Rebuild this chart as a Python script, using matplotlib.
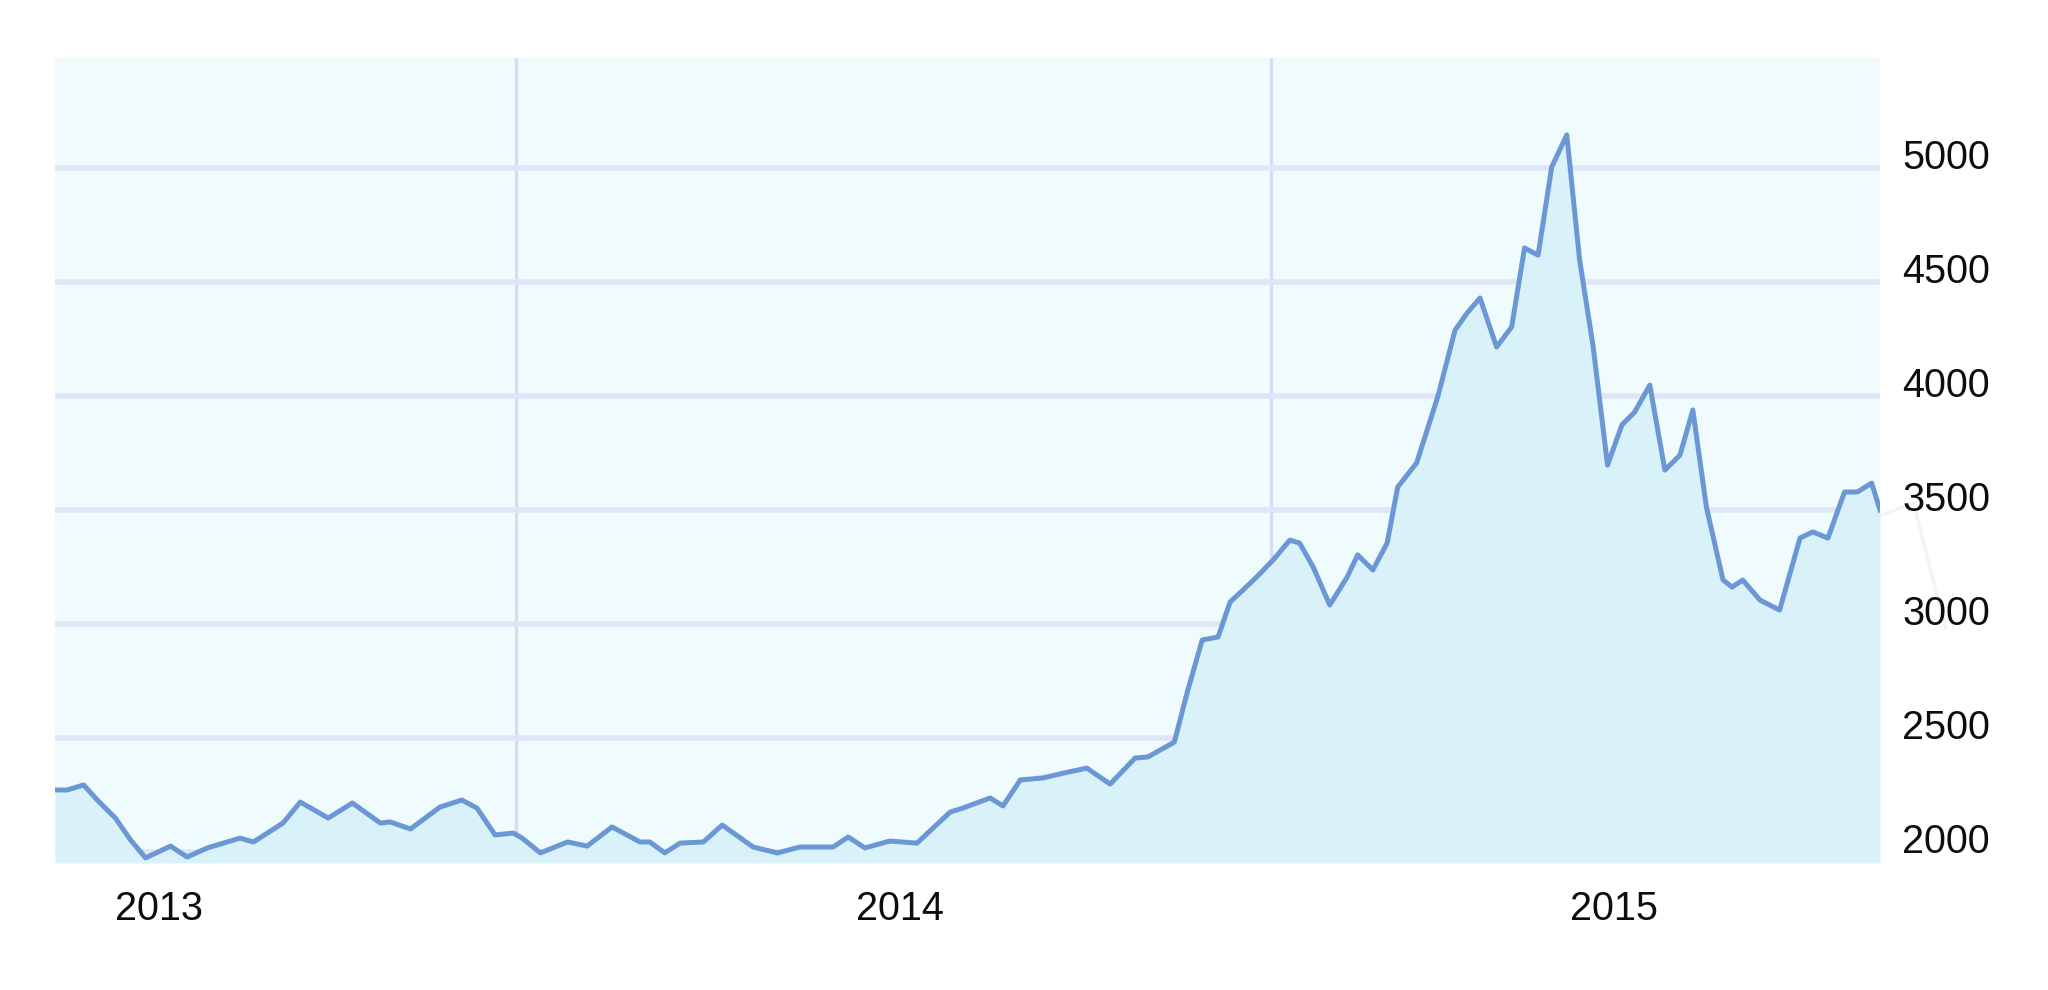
import matplotlib
matplotlib.use("Agg")
import matplotlib.pyplot as plt
from matplotlib.transforms import ScaledTranslation

# time (fractional years) and index values
years = [2013.389, 2013.405, 2013.427, 2013.445, 2013.469, 2013.489, 2013.509, 2013.542,
         2013.564, 2013.591, 2013.612, 2013.634, 2013.652, 2013.691, 2013.714, 2013.751,
         2013.783, 2013.820, 2013.833, 2013.860, 2013.899, 2013.928, 2013.948, 2013.972,
         2013.996, 2014.008, 2014.032, 2014.068, 2014.094, 2014.127, 2014.164, 2014.177,
         2014.197, 2014.217, 2014.248, 2014.273, 2014.314, 2014.346, 2014.376, 2014.420,
         2014.440, 2014.462, 2014.495, 2014.531, 2014.575, 2014.592, 2014.628, 2014.645,
         2014.668, 2014.698, 2014.725, 2014.756, 2014.787, 2014.820, 2014.837, 2014.872,
         2014.890, 2014.909, 2014.930, 2014.946, 2014.963, 2014.981, 2015.003, 2015.025,
         2015.038, 2015.056, 2015.078, 2015.101, 2015.115, 2015.135, 2015.154, 2015.168,
         2015.193, 2015.221, 2015.244, 2015.260, 2015.277, 2015.299, 2015.319, 2015.336,
         2015.354, 2015.372, 2015.392, 2015.409, 2015.427, 2015.446, 2015.465, 2015.482,
         2015.502, 2015.522, 2015.542, 2015.559, 2015.577, 2015.599, 2015.611, 2015.625,
         2015.648, 2015.674, 2015.701, 2015.718, 2015.738, 2015.760, 2015.777, 2015.796,
         2015.807]
values = [2272, 2272, 2294, 2228, 2149, 2053, 1974, 2026,
          1978, 2018, 2039, 2061, 2044, 2127, 2219, 2149,
          2215, 2127, 2132, 2101, 2197, 2228, 2193, 2075,
          2083, 2061, 1996, 2044, 2026, 2110, 2044, 2044,
          1996, 2039, 2044, 2118, 2022, 1996, 2022, 2022,
          2066, 2018, 2048, 2039, 2175, 2193, 2237, 2202,
          2316, 2325, 2346, 2368, 2298, 2412, 2417, 2482,
          2711, 2930, 2943, 3097, 3149, 3206, 3281, 3368,
          3355, 3250, 3083, 3206, 3303, 3237, 3355, 3601,
          3706, 3996, 4289, 4364, 4430, 4215, 4303, 4649,
          4618, 5004, 5145, 4597, 4215, 3697, 3873, 3930,
          4048, 3675, 3741, 3939, 3513, 3193, 3162, 3193,
          3105, 3061, 3377, 3404, 3377, 3579, 3579, 3618,
          3500]

# faint ghost line visible to the right of the plot
ghost_years = [2015.807, 2015.851, 2015.894]
ghost_values = [3475, 3530, 2985]

year_tick_pos = [2013.527, 2014.509, 2015.454]
year_labels = ["2013", "2014", "2015"]
year_grid = [2014.0, 2015.0]
value_ticks = [2000, 2500, 3000, 3500, 4000, 4500, 5000]

plt.rcParams['font.family'] = ['Liberation Sans', 'DejaVu Sans']

fig = plt.figure(figsize=(20.48, 9.9), dpi=100)
fig.patch.set_facecolor('white')
ax = fig.add_axes([0.02686, 0.12828, 0.89111, 0.81313])
ax.set_facecolor('#F0FBFD')

ax.set_xlim(2013.389, 2015.807)
ax.set_ylim(1951.8, 5482.5)

ax.fill_between(years, values, 1951.8, color='#D9F2FA', zorder=1, linewidth=0)
ax.plot(years, values, color='#6B98D5', linewidth=3.6, solid_joinstyle='round', zorder=3)
ax.plot(ghost_years, ghost_values, color='#F3F4F8', linewidth=2.5, clip_on=False, zorder=0)

ax.set_xticks(year_tick_pos)
ax.set_xticklabels(year_labels)
ax.set_xticks(year_grid, minor=True)
ax.set_yticks(value_ticks)
ax.set_yticklabels([str(v) for v in value_ticks])

ax.yaxis.tick_right()
ax.tick_params(axis='y', which='both', length=0, pad=16, labelsize=28.5, labelcolor='#0d0d0d')
ax.tick_params(axis='x', which='both', length=0, pad=19.5, labelsize=28.5, labelcolor='#0d0d0d')

ax.grid(axis='y', which='major', color='#DFE6F8', linewidth=4.0, zorder=0)
ax.grid(axis='x', which='minor', color='#D7DBF4', linewidth=2.4, zorder=0)
ax.grid(axis='x', which='major', visible=False)
ax.set_axisbelow(True)

for s in ax.spines.values():
    s.set_visible(False)

offset = ScaledTranslation(0, 0.14, fig.dpi_scale_trans)
for lab in ax.get_yticklabels():
    lab.set_transform(lab.get_transform() + offset)

fig.savefig('out.png', dpi=100, facecolor='white')
